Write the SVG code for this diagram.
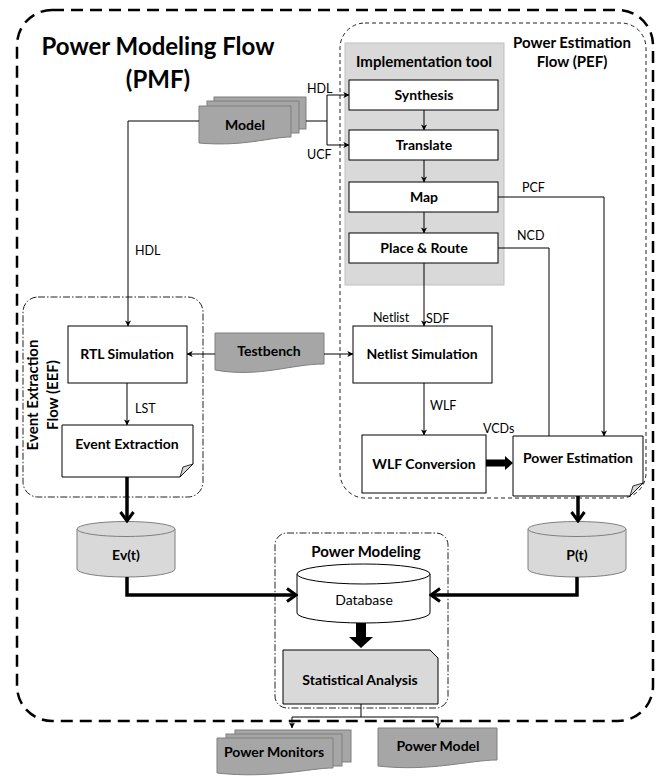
<svg xmlns="http://www.w3.org/2000/svg" width="664" height="776" viewBox="0 0 664 776">
<defs>
<style>
text{font-family:Lato,"Liberation Sans",sans-serif;fill:#000}
.b{font-weight:bold;font-size:14px;text-anchor:middle}
.r{font-size:12.5px}
.box{fill:#fff;stroke:#000;stroke-width:1}
.dk{fill:#a6a6a6;stroke:#7f7f7f;stroke-width:1}
.lt{fill:#d9d9d9;stroke:#7f7f7f;stroke-width:1}
.thin{fill:none;stroke:#000;stroke-width:1}
.thick{fill:none;stroke:#000;stroke-width:3.5}
</style>
<marker id="a" viewBox="0 0 8 8" refX="7.5" refY="4" markerWidth="6" markerHeight="6" orient="auto" markerUnits="userSpaceOnUse"><path d="M0,0 L8,4 L0,8 L2,4z" fill="#000"/></marker>
<marker id="v" viewBox="0 0 12 16" refX="10" refY="8" markerWidth="12" markerHeight="16" orient="auto" markerUnits="userSpaceOnUse"><path d="M1,1.5 L10,8 L1,14.5" fill="none" stroke="#000" stroke-width="3"/></marker>
</defs>
<rect width="664" height="776" fill="#fff"/>

<g id="pmf">
<rect x="17" y="10" width="636" height="711" rx="35" fill="none" stroke="#000" stroke-width="2.5" stroke-dasharray="12 7"/>
<text x="158" y="55" style="font-size:24px;font-weight:bold;text-anchor:middle">Power Modeling Flow</text>
<text x="158" y="88" style="font-size:24px;font-weight:bold;text-anchor:middle">(PMF)</text>
</g>

<g id="pef">
<rect x="340" y="23" width="306" height="475" rx="25" fill="none" stroke="#222" stroke-width="1" stroke-dasharray="4 3"/>
<text x="572" y="48" class="b" style="font-size:15px">Power Estimation</text>
<text x="572" y="67" class="b" style="font-size:15px">Flow (PEF)</text>
</g>

<g id="impl">
<rect x="345" y="43" width="159" height="242" fill="#d9d9d9" stroke="#bfbfbf"/>
<text x="424" y="67" class="b" style="font-size:15px">Implementation tool</text>
</g>

<g id="eef">
<rect x="23" y="297" width="180" height="200" rx="15" fill="none" stroke="#222" stroke-width="1" stroke-dasharray="7 2 1.5 2"/>
<text transform="translate(38,395) rotate(-90)" class="b" style="font-size:15px">Event Extraction</text>
<text transform="translate(58,395) rotate(-90)" class="b" style="font-size:15px">Flow (EEF)</text>
</g>

<g id="pm">
<rect x="275" y="533" width="173" height="175" rx="12" fill="none" stroke="#222" stroke-width="1" stroke-dasharray="7 2 1.5 2"/>
<text x="366" y="557" class="b" style="font-size:15px">Power Modeling</text>
</g>

<g id="synthesis"><rect x="349" y="80" width="149" height="30" class="box"/><text x="424" y="100" class="b">Synthesis</text></g>
<g id="translate"><rect x="349" y="130" width="149" height="30" class="box"/><text x="424" y="150" class="b">Translate</text></g>
<g id="map"><rect x="349" y="182" width="149" height="30" class="box"/><text x="424" y="202" class="b">Map</text></g>
<g id="par"><rect x="349" y="233" width="149" height="30" class="box"/><text x="424" y="253" class="b">Place &amp; Route</text></g>

<g id="model">
<rect x="214" y="97" width="92" height="32" class="dk"/>
<rect x="207" y="101" width="92" height="32" class="dk"/>
<path d="M199,106 H291 V137 C271,137 243,147 199,143 Z" class="dk"/>
<text x="245" y="130" class="b">Model</text>
</g>

<g id="testbench">
<path d="M215,333 H324 V364 C290,364 260,378 215,370 Z" class="dk"/>
<text x="269" y="356" class="b">Testbench</text>
</g>

<g id="rtl"><rect x="68" y="326" width="119" height="57" class="box"/><text x="127" y="359" class="b">RTL Simulation</text></g>
<g id="evx">
<path d="M62,425 H193 V464 L180,477 H62 Z" class="box"/>
<path d="M193,464 L180,477 L183,467 Z" fill="#d9d9d9" stroke="#000" stroke-width="0.8"/>
<text x="127" y="449" class="b">Event Extraction</text>
</g>

<g id="netsim"><rect x="353" y="326" width="139" height="57" class="box"/><text x="422" y="359" class="b">Netlist Simulation</text></g>
<g id="wlfconv"><rect x="362" y="435" width="124" height="58" class="box"/><text x="424" y="469" class="b">WLF Conversion</text></g>
<g id="pe">
<path d="M513,436 H643 V483 L630,496 H513 Z" class="box"/>
<path d="M643,483 L630,496 L633,486 Z" fill="#d9d9d9" stroke="#000" stroke-width="0.8"/>
<text x="578" y="463" class="b">Power Estimation</text>
</g>

<g id="evt">
<path d="M77,529 V569 A49,8 0 0 0 175,569 V529" class="lt"/>
<ellipse cx="126" cy="529" rx="49" ry="7.5" class="lt"/>
<text x="126" y="560" class="b">Ev(t)</text>
</g>
<g id="pt">
<path d="M528,529 V569 A49,8 0 0 0 626,569 V529" class="lt"/>
<ellipse cx="577" cy="529" rx="49" ry="7.5" class="lt"/>
<text x="577" y="560" class="b">P(t)</text>
</g>

<g id="database">
<path d="M297,574 V613 A66.5,10 0 0 0 430,613 V574" fill="#fff" stroke="#000"/>
<ellipse cx="363.5" cy="574" rx="66.5" ry="10" fill="#fff" stroke="#000"/>
<text x="364" y="605" style="font-size:14px;text-anchor:middle">Database</text>
</g>

<g id="stat">
<path d="M283,650 H430 L438,658 V704 H283 Z" fill="#d9d9d9" stroke="#000"/>
<text x="360" y="685" class="b">Statistical Analysis</text>
</g>

<g id="monitors">
<rect x="235" y="730" width="116" height="32" class="dk"/>
<rect x="226" y="734" width="116" height="32" class="dk"/>
<path d="M217,738 H333 V768 C310,768 270,779 217,773 Z" class="dk"/>
<text x="274" y="757" class="b">Power Monitors</text>
</g>

<g id="powermodel">
<path d="M378,728 H497 V760 C470,760 430,772 378,766 Z" class="dk"/>
<text x="438" y="751" class="b">Power Model</text>
</g>

<g id="connectors">
<path d="M424,110 V130" class="thin" marker-end="url(#a)"/>
<path d="M424,160 V182" class="thin" marker-end="url(#a)"/>
<path d="M424,212 V233" class="thin" marker-end="url(#a)"/>
<path d="M424,263 V326" class="thin" marker-end="url(#a)"/>
<path d="M424,383 V435" class="thin" marker-end="url(#a)"/>
<path d="M199,121 H128 V326" class="thin" marker-end="url(#a)"/>
<path d="M306,121 H327" class="thin"/>
<path d="M327,95 V145" class="thin"/>
<path d="M327,95 H349" class="thin" marker-end="url(#a)"/>
<path d="M327,145 H349" class="thin" marker-end="url(#a)"/>
<path d="M498,197 H604 V436" class="thin" marker-end="url(#a)"/>
<path d="M498,248 H549 V436" class="thin"/>
<path d="M215,354 H187" class="thin" marker-end="url(#a)"/>
<path d="M324,354 H353" class="thin" marker-end="url(#a)"/>
<path d="M127,383 V425" class="thin" marker-end="url(#a)"/>
<path d="M486,459.5 H505 V456 L513,463 L505,470 V466.5 H486 Z" fill="#000"/>
<path d="M127,477 V521" class="thick" marker-end="url(#v)"/>
<path d="M578,496 V521" class="thick" marker-end="url(#v)"/>
<path d="M127,577 V595 H296" class="thick" marker-end="url(#v)"/>
<path d="M577,577 V595 H431" class="thick" marker-end="url(#v)"/>
<path d="M356,623 H366 V637 H373 L361,648 L349,637 H356 Z" fill="#000"/>
<path d="M361,704 V717" class="thin"/>
<path d="M292,717 H438" class="thin"/>
<path d="M292,717 V728" class="thin" marker-end="url(#a)"/>
<path d="M438,717 V728" class="thin" marker-end="url(#a)"/>
</g>

<g id="labels">
<text x="307" y="93" class="r">HDL</text>
<text x="307" y="159" class="r">UCF</text>
<text x="135" y="255" class="r">HDL</text>
<text x="522" y="192" class="r">PCF</text>
<text x="517" y="240" class="r">NCD</text>
<text x="373" y="322" class="r">Netlist</text>
<text x="426" y="323" class="r">SDF</text>
<text x="430" y="410" class="r">WLF</text>
<text x="483" y="433" class="r">VCDs</text>
<text x="135" y="413" class="r">LST</text>
</g>
</svg>
